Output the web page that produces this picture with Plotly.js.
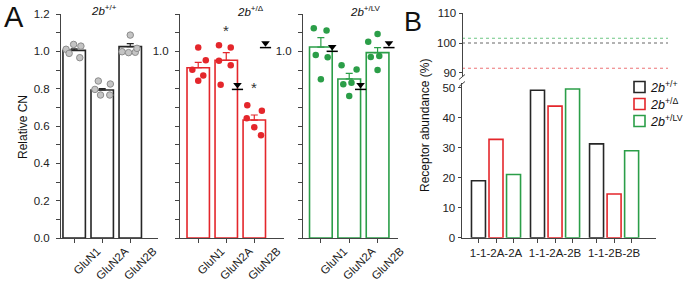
<!DOCTYPE html>
<html>
<head>
<meta charset="utf-8">
<script src="https://cdn.plot.ly/plotly-3.0.1.min.js"></script>
<style>
  html, body { margin: 0; padding: 0; background: #fff; }
  #chart { width: 685px; height: 281px; }
</style>
</head>
<body>
<div id="chart"></div>
<script>
// ---- Panel A: relative copy number per subunit ----
const genes = ['GluN1', 'GluN2A', 'GluN2B'];

const wtMean = [1.005, 0.793, 1.025];
const wtSem  = [0.008, 0.008, 0.016];
const wtDots = [[1.011, 1.037, 1.028, 0.989, 0.966],
                [0.841, 0.796, 0.766, 0.766, 0.825],
                [1.087, 0.998, 0.993, 0.995, 1.016]];

const delMean = [0.912, 0.952, 0.632];
const delSem  = [0.029, 0.041, 0.027];
const delDots = [[1.021, 0.902, 0.952, 0.843, 0.871],
                 [1.032, 1.021, 0.950, 0.925, 0.821],
                 [0.711, 0.641, 0.682, 0.593, 0.550]];

const lvMean = [1.023, 0.852, 0.993];
const lvSem  = [0.050, 0.030, 0.027];
const lvDots = [[1.123, 1.111, 0.980, 0.968, 0.850],
                [0.925, 0.903, 0.823, 0.832, 0.761],
                [1.051, 1.093, 0.970, 0.975, 0.900]];

// predicted values (triangles) and significance marks
const delPredGene = [1, 2];
const delPredVal  = [0.796, 1.02];
const lvPredGene  = [0, 1, 2];
const lvPredVal   = [1.0, 0.796, 1.02];
const delStarGene = [1, 2];
const delStarVal  = [1.111, 0.807];

// horizontal spread of the individual points within each bar
const wtSpread  = [[-0.29, -0.02, 0.24, -0.18, 0.20], [-0.14, -0.26, -0.06, 0.27, 0.29], [0.00, -0.29, -0.06, 0.18, 0.24]];
const delSpread = [[0.00, -0.21, 0.27, 0.00, 0.18], [-0.26, 0.16, -0.26, 0.16, -0.20], [-0.25, -0.27, 0.27, 0.00, 0.24]];
const lvSpread  = [[-0.25, 0.20, -0.18, 0.24, 0.00], [-0.27, 0.26, -0.21, 0.08, 0.00], [-0.33, 0.00, -0.24, 0.06, 0.00]];

// ---- Panel B: receptor abundance ----
const combos = ['1-1-2A-2A', '1-1-2A-2B', '1-1-2B-2B'];
const abWT  = [19.0, 49.2, 31.3];
const abDel = [32.8, 43.9, 14.6];
const abLV  = [21.1, 49.6, 29.0];
const totals = [100, 91.5, 101.6];   // wt, del, lv

const genoLabels = ['<i>2b</i><sup>+/+</sup>', '<i>2b</i><sup>+/\u0394</sup>', '<i>2b</i><sup>+/LV</sup>'];

// ---- styling ----
const W = 685, H = 281;
const FONT = 'Liberation Sans, Arial, sans-serif';
const AX = '#444';
const BLACK = '#262626', RED = '#e4262b', GREEN = '#2b9e48';
const px = v => v / W;
const py = v => 1 - v / H;
const xdom = (a, b) => [a / W, b / W];
const ydom = (top, bottom) => [1 - bottom / H, 1 - top / H];

const A_TOP = 14, A_BOT = 238;
const A_RANGE = [0, 1.2];
const A_PX_PER_UNIT = (A_BOT - A_TOP) / (A_RANGE[1] - A_RANGE[0]);
const TRI_SIZE = 7.5;
const TRI_LIFT = (TRI_SIZE / 2 + 0.8) / A_PX_PER_UNIT;
const PRED_DX = 0.4;

const traces = [];

function panelA(mean, sem, dots, spread, color, dotFill, dotLine, xa, ya) {
  traces.push({
    type: 'bar', x: genes.map((g, i) => i), y: mean, width: 0.8,
    xaxis: xa, yaxis: ya, showlegend: false, hoverinfo: 'skip',
    marker: { color: '#fff', line: { color: color, width: 1.6 } },
    error_y: { type: 'data', symmetric: false, array: sem, arrayminus: sem.map(() => 0),
               color: color, thickness: 1.2, width: 3.5 }
  });
  const xs = [], ys = [];
  dots.forEach((arr, i) => arr.forEach((v, j) => { xs.push(i + spread[i][j]); ys.push(v); }));
  traces.push({
    type: 'scatter', mode: 'markers', x: xs, y: ys, xaxis: xa, yaxis: ya,
    showlegend: false, hoverinfo: 'skip',
    marker: { size: 6.5, color: dotFill, line: { color: dotLine, width: dotLine ? 1 : 0 } }
  });
}

function predicted(geneIdx, vals, xa, ya) {
  const xs = geneIdx.map(i => i + PRED_DX);
  traces.push({
    type: 'scatter', mode: 'markers', x: xs, y: vals, xaxis: xa, yaxis: ya,
    showlegend: false, hoverinfo: 'skip',
    marker: { symbol: 'line-ew', size: 8, line: { color: '#000', width: 1.5 } }
  });
  traces.push({
    type: 'scatter', mode: 'markers', x: xs, y: vals.map(v => v + TRI_LIFT), xaxis: xa, yaxis: ya,
    showlegend: false, hoverinfo: 'skip',
    marker: { symbol: 'triangle-down', size: TRI_SIZE, color: '#000' }
  });
}

panelA(wtMean, wtSem, wtDots, wtSpread, BLACK, '#c4c4c4', '#8c8c8c', 'x', 'y');
panelA(delMean, delSem, delDots, delSpread, RED, RED, null, 'x2', 'y2');
panelA(lvMean, lvSem, lvDots, lvSpread, GREEN, GREEN, null, 'x3', 'y3');
predicted(delPredGene, delPredVal, 'x2', 'y2');
predicted(lvPredGene, lvPredVal, 'x3', 'y3');

// Panel B bars, placed side by side inside each combination
const B_SLOT = 0.297, B_W = 0.237;
const bSets = [[abWT, BLACK], [abDel, RED], [abLV, GREEN]];
bSets.forEach(([vals, color], k) => {
  traces.push({
    type: 'bar', x: combos.map((c, i) => i), y: vals,
    width: B_W, offset: (k - 1) * B_SLOT - B_W / 2,
    xaxis: 'x4', yaxis: 'y4', showlegend: false, hoverinfo: 'skip',
    marker: { color: 'rgba(0,0,0,0)', line: { color: color, width: 1.6 } }
  });
});

// totals on the upper (broken) segment
const totalColors = ['#555', '#ea6366', '#5cc076'];
totals.forEach((t, k) => {
  traces.push({
    type: 'scatter', mode: 'lines', x: [0, 1], y: [t, t], xaxis: 'x5', yaxis: 'y5',
    showlegend: false, hoverinfo: 'skip',
    line: { color: totalColors[k], width: 0.9, dash: 'dot' }
  });
});

const bTickVals = [], bTickText = [];
combos.forEach((c, i) => [-1, 0, 1].forEach(k => {
  bTickVals.push(i + k * B_SLOT);
  bTickText.push(k === 0 ? c : '');
}));

const baseAxis = {
  showline: true, linecolor: AX, linewidth: 1, ticks: 'outside', ticklen: 4,
  tickcolor: AX, tickwidth: 1, zeroline: false, showgrid: false, fixedrange: true,
  tickfont: { family: FONT, size: 11, color: '#222' }
};
const geneXAxis = (dom, range, anchor) => Object.assign({}, baseAxis, {
  domain: dom, range: range, anchor: anchor, tickvals: [0, 1, 2], ticktext: genes,
  tickangle: -45, ticklabelstandoff: -3, ticklabelshift: 23,
  tickfont: { family: FONT, size: 11.5, color: '#222' }
});
const relYAxis = (anchor, labelled) => Object.assign({}, baseAxis, {
  domain: ydom(A_TOP, A_BOT), range: A_RANGE, anchor: anchor,
  ticklabelstandoff: 4,
  tickfont: { family: FONT, size: 11.5, color: '#222' },
  minor: { dtick: 0.1, ticks: 'outside', ticklen: 4, tickcolor: AX, showgrid: false }
}, labelled ? { dtick: 0.2, tickformat: '.1f' } : { tickvals: [1], ticktext: ['1.0'] });

const annotations = [];
const ann = (x, y, text, size, extra) => annotations.push(Object.assign({
  xref: 'paper', yref: 'paper', x: px(x), y: py(y), text: text, showarrow: false,
  font: { family: FONT, size: size, color: '#111' }, xanchor: 'center', yanchor: 'middle'
}, extra || {}));

ann(14, 17, 'A', 29);
ann(413, 22, 'B', 27);
ann(23, 127, 'Relative CN', 12, { textangle: -90 });
ann(425, 126, 'Receptor abundance (%)', 12, { textangle: -90 });
ann(104, 10, genoLabels[0], 11.5);
ann(250, 11, genoLabels[1], 11.5);
ann(366, 11, genoLabels[2], 11.5);

delStarGene.forEach((g, i) => annotations.push({
  xref: 'x2', yref: 'y2', x: g, y: delStarVal[i], text: '*', showarrow: false,
  font: { family: FONT, size: 15, color: '#333' }, xanchor: 'center', yanchor: 'middle'
}));

// legend for panel B
const shapes = [];
const legendRows = [87, 104, 121];
[BLACK, RED, GREEN].forEach((c, k) => {
  const cy = legendRows[k];
  shapes.push({ type: 'rect', xref: 'paper', yref: 'paper',
    x0: px(634), x1: px(645), y0: py(cy + 5.5), y1: py(cy - 5.5),
    line: { color: c, width: 1.6 }, fillcolor: 'rgba(0,0,0,0)' });
  ann(648, cy, genoLabels[k], 12.5, { xanchor: 'left' });
});

// axis break marks
[[79.5, 74.5], [86.5, 81.5]].forEach(([y0, y1]) => shapes.push({
  type: 'line', xref: 'paper', yref: 'paper',
  x0: px(459), y0: py(y0), x1: px(465), y1: py(y1), line: { color: AX, width: 1 }
}));

const layout = {
  width: W, height: H, margin: { l: 0, r: 0, t: 0, b: 0 },
  paper_bgcolor: '#fff', plot_bgcolor: 'rgba(0,0,0,0)',
  barmode: 'overlay', showlegend: false,
  font: { family: FONT, color: '#222' },
  xaxis:  geneXAxis(xdom(61, 158), [-0.47, 2.99], 'y'),
  xaxis2: geneXAxis(xdom(180, 284), [-0.65, 3.06], 'y2'),
  xaxis3: geneXAxis(xdom(303, 398), [-0.63, 2.72], 'y3'),
  yaxis:  relYAxis('x', true),
  yaxis2: relYAxis('x2', false),
  yaxis3: relYAxis('x3', false),
  xaxis4: Object.assign({}, baseAxis, {
    domain: xdom(462, 656), range: [-0.576, 2.71], anchor: 'y4',
    tickvals: bTickVals, ticktext: bTickText, tickangle: 0,
    tickfont: { family: FONT, size: 11.5, color: '#222' }
  }),
  yaxis4: Object.assign({}, baseAxis, {
    domain: ydom(83, 237.7), range: [0, 51.6], anchor: 'x4',
    tickvals: [0, 10, 20, 30, 40, 50], ticklen: 3.5,
    tickfont: { family: FONT, size: 11.5, color: '#222' }
  }),
  xaxis5: { domain: xdom(462, 668), range: [0, 1], anchor: 'y5', visible: false, fixedrange: true },
  yaxis5: Object.assign({}, baseAxis, {
    domain: ydom(13.3, 77), range: [88.55, 110], anchor: 'free', position: 462 / W,
    tickvals: [90, 100, 110], ticklen: 3.5,
    tickfont: { family: FONT, size: 11.5, color: '#222' }
  }),
  annotations: annotations,
  shapes: shapes
};

Plotly.newPlot('chart', traces, layout, { staticPlot: true, displayModeBar: false });
</script>
</body>
</html>
